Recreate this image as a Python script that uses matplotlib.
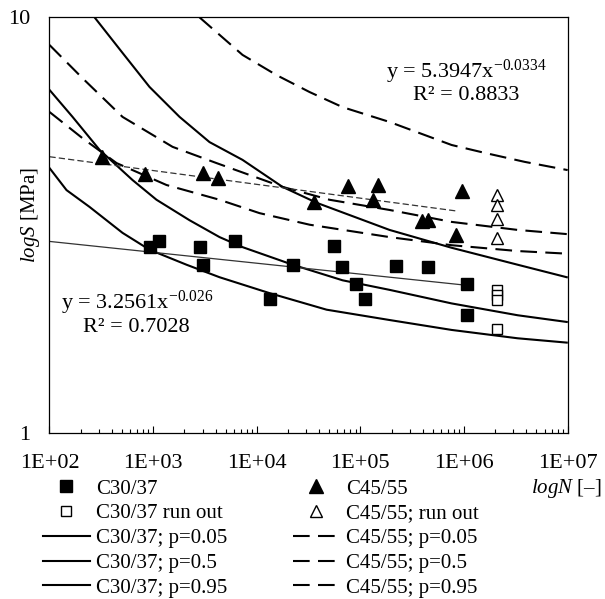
import matplotlib
matplotlib.use('Agg')
import matplotlib.pyplot as plt

plt.rcParams['font.family'] = ['Liberation Serif', 'DejaVu Serif']
plt.rcParams['mathtext.fontset'] = 'custom'
plt.rcParams['mathtext.rm'] = 'Liberation Serif'
plt.rcParams['mathtext.it'] = 'Liberation Serif:italic'

# test data
c30_N = [923, 1150, 2810, 3000, 6110, 13300, 22200, 55100, 65900, 90000,
         112000, 219000, 446000, 1.06e6, 1.06e6]
c30_S = [2.80, 2.90, 2.80, 2.54, 2.90, 2.10, 2.54, 2.82, 2.51, 2.28,
         2.10, 2.52, 2.51, 2.28, 1.92]
c30_ro_N = [2.06e6, 2.06e6, 2.06e6, 2.06e6]
c30_ro_S = [2.21, 2.15, 2.09, 1.78]

c45_N = [318, 826, 3060, 4180, 35300, 75200, 146600, 131000, 390000,
         446000, 830000, 948000]
c45_S = [4.61, 4.20, 4.22, 4.11, 3.59, 3.93, 3.95, 3.64, 3.24, 3.25,
         2.99, 3.82]
c45_ro_N = [2.06e6, 2.06e6, 2.06e6, 2.06e6]
c45_ro_S = [3.74, 3.54, 3.27, 2.94]

# power trend lines (end points)
c30_fit_N = [100, 1.0e6]
c30_fit_S = [2.89, 2.27]
c45_fit_N = [100, 8.5e5]
c45_fit_S = [4.62, 3.42]

# S-N curves for the probabilities
c30_p05_N = [100, 146, 243, 507, 923, 2100, 4375, 13300, 47200, 191000,
             759000, 3.29e6, 9.8e6]
c30_p05_S = [4.34, 3.84, 3.50, 3.03, 2.76, 2.54, 2.37, 2.17, 1.98, 1.87,
             1.77, 1.69, 1.65]
c30_p50_N = [100, 167, 304, 633, 1078, 2245, 4375, 7290, 22200, 67300,
             191000, 759000, 3.29e6, 9.8e6]
c30_p50_S = [6.69, 5.76, 4.80, 4.06, 3.64, 3.25, 2.96, 2.80, 2.54, 2.33,
             2.21, 2.05, 1.92, 1.85]
c30_p95_N = [272, 507, 923, 1800, 3500, 7290, 17700, 37800, 191000,
             759000, 3.29e6, 9.8e6]
c30_p95_S = [10.0, 8.21, 6.80, 5.76, 5.01, 4.54, 3.91, 3.58, 3.08, 2.79,
             2.54, 2.37]

c45_p05_N = [100, 208, 444, 1346, 4370, 10640, 32400, 191000, 759000,
             3.29e6, 1e7]
c45_p05_S = [5.92, 5.12, 4.46, 3.95, 3.64, 3.38, 3.17, 2.96, 2.83, 2.74,
             2.70]
c45_p50_N = [100, 208, 507, 1540, 4090, 17700, 50400, 191000, 759000,
             3.29e6, 9.8e6]
c45_p50_S = [8.58, 7.14, 5.76, 4.88, 4.46, 3.91, 3.64, 3.44, 3.22, 3.08,
             3.01]
c45_p95_N = [2800, 7290, 15530, 32350, 67300, 191400, 759000, 1.58e6,
             3.85e6, 1e7]
c45_p95_S = [10.0, 8.12, 7.26, 6.61, 6.08, 5.60, 4.93, 4.72, 4.49, 4.29]

xticks = [1e2, 1e3, 1e4, 1e5, 1e6, 1e7]
xlabels = ['1E+02', '1E+03', '1E+04', '1E+05', '1E+06', '1E+07']

fs = 15
fig = plt.figure(figsize=(6.05, 5.99), dpi=100)
ax = fig.add_axes([0.0818, 0.2771, 0.8565, 0.694])

dash = (8, 4)
h_c30 = []
h_c45 = []
for N, S in [(c30_p05_N, c30_p05_S), (c30_p50_N, c30_p50_S), (c30_p95_N, c30_p95_S)]:
    l, = ax.plot(N, S, color='black', lw=1.5)
    h_c30.append(l)
for N, S in [(c45_p05_N, c45_p05_S), (c45_p50_N, c45_p50_S), (c45_p95_N, c45_p95_S)]:
    l, = ax.plot(N, S, color='black', lw=1.5, dashes=dash)
    h_c45.append(l)

ax.plot(c30_fit_N, c30_fit_S, color='#333333', lw=0.9)
ax.plot(c45_fit_N, c45_fit_S, color='#333333', lw=0.9, dashes=(5, 2.5))

m1, = ax.plot(c30_N, c30_S, 's', color='black', ms=8, zorder=5, ls='none')
m2, = ax.plot(c30_ro_N, c30_ro_S, 's', mfc='white', mec='black', mew=1,
              ms=7, zorder=5, ls='none')
m3, = ax.plot(c45_N, c45_S, '^', color='black', ms=9.5, zorder=5, ls='none')
m4, = ax.plot(c45_ro_N, c45_ro_S, '^', mfc='white', mec='black', mew=1,
              ms=9, zorder=5, ls='none')

ax.set_xscale('log')
ax.set_yscale('log')
ax.set_xlim(1e2, 1e7)
ax.set_ylim(1, 10)
ax.set_xticks(xticks)
ax.set_xticklabels(xlabels)
ax.set_yticks([1, 10])
ax.set_yticklabels(['1', '10'])
ax.yaxis.set_minor_locator(matplotlib.ticker.NullLocator())
ax.tick_params(axis='x', which='major', direction='in', length=5, width=0.8,
               labelsize=16, pad=15)
ax.tick_params(axis='x', which='minor', direction='in', length=3, width=0.8)
ax.tick_params(axis='y', which='major', length=0, labelsize=16, pad=14)
for sp in ax.spines.values():
    sp.set_linewidth(0.9)

ax.text(0.804, 0.868, 'y = 5.3947x$^{-0.0334}$', transform=ax.transAxes,
        fontsize=16, ha='center', va='center')
ax.text(0.804, 0.813, 'R\u00b2 = 0.8833', transform=ax.transAxes,
        fontsize=16, ha='center', va='center')
ax.text(0.169, 0.313, 'y = 3.2561x$^{-0.026}$', transform=ax.transAxes,
        fontsize=16, ha='center', va='center')
ax.text(0.167, 0.255, 'R\u00b2 = 0.7028', transform=ax.transAxes,
        fontsize=16, ha='center', va='center')

fig.text(30 / 605, 1 - 215 / 599, '$\\mathit{logS}$ [MPa]', rotation=90,
         fontsize=fs, ha='center', va='center')
fig.text(602 / 605, 1 - 488 / 599, '$\\mathit{logN}$ [\u2013]', fontsize=fs,
         ha='right', va='center')

handles = [m1, m2] + h_c30 + [m3, m4] + h_c45
labels = ['C30/37', 'C30/37 run out', 'C30/37; p=0.05', 'C30/37; p=0.5',
          'C30/37; p=0.95', 'C45/55', 'C45/55; run out', 'C45/55; p=0.05',
          'C45/55; p=0.5', 'C45/55; p=0.95']
fig.legend(handles, labels, ncol=2, loc='upper left',
           bbox_to_anchor=(43 / 605, 1 - 479 / 599), frameon=False,
           fontsize=fs, borderpad=0, borderaxespad=0, handlelength=2.25,
           handletextpad=0.3, columnspacing=3.15, labelspacing=0.25)

plt.savefig('out.png', dpi=100)
